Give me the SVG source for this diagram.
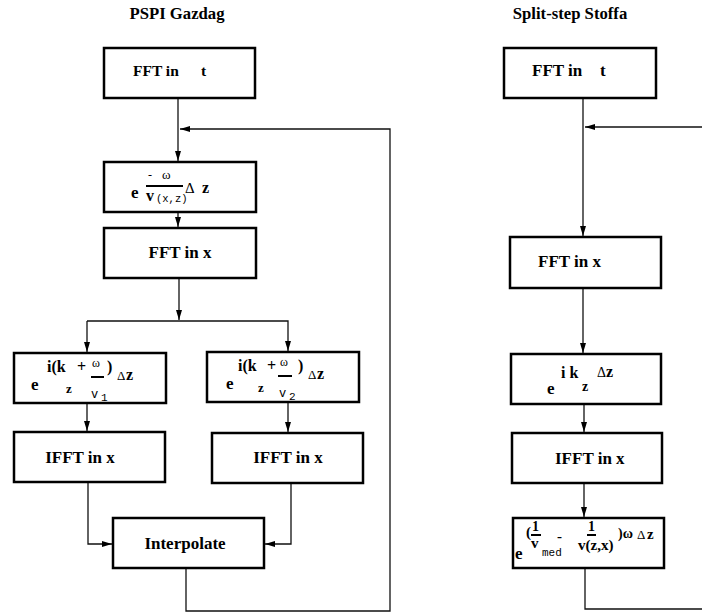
<svg xmlns="http://www.w3.org/2000/svg" width="702" height="613" viewBox="0 0 702 613">
<defs>
<style>
.box{fill:#fff;stroke:#000;stroke-width:2.5}
.c{fill:none;stroke:#111;stroke-width:1.3}
.t{font-family:"Liberation Serif","Times New Roman",serif;font-weight:bold;fill:#000}
.r{font-family:"Liberation Serif","Times New Roman",serif;fill:#000}
.m{font-family:"Liberation Mono","Courier New",monospace;fill:#000}
.bar{stroke:#000;stroke-width:2}
</style>
<marker id="ah" viewBox="0 0 10 6" refX="10" refY="3" markerWidth="10" markerHeight="6" markerUnits="userSpaceOnUse" orient="auto">
<path d="M0,0 L10,3 L0,6 z" fill="#000"/>
</marker>
</defs>
<rect width="702" height="613" fill="#fff"/>
<text class="t" x="177" y="19" font-size="16.7" text-anchor="middle">PSPI Gazdag</text>
<text class="t" x="570" y="19" font-size="16.7" text-anchor="middle">Split-step Stoffa</text>

<g id="connectors">
<path class="c" d="M178,98 V161" marker-end="url(#ah)"/>
<path class="c" d="M186,568 V611 H390 V129 H180" marker-end="url(#ah)"/>
<path class="c" d="M178,212 V227" marker-end="url(#ah)"/>
<path class="c" d="M179,278 V320" marker-end="url(#ah)"/>
<path class="c" d="M87,321 H288 V351" marker-end="url(#ah)"/>
<path class="c" d="M87,321 V352" marker-end="url(#ah)"/>
<path class="c" d="M87,403 V431" marker-end="url(#ah)"/>
<path class="c" d="M288,402 V432" marker-end="url(#ah)"/>
<path class="c" d="M88,482 V544 H112" marker-end="url(#ah)"/>
<path class="c" d="M291,483 V544 H265" marker-end="url(#ah)"/>
<path class="c" d="M583,98 V236" marker-end="url(#ah)"/>
<path class="c" d="M702,127 H585" marker-end="url(#ah)"/>
<path class="c" d="M583,288 V353" marker-end="url(#ah)"/>
<path class="c" d="M584,404 V432" marker-end="url(#ah)"/>
<path class="c" d="M584,483 V517" marker-end="url(#ah)"/>
<path class="c" d="M585,568 V609 H702"/>
</g>

<g id="g_fft_t">
<rect class="box" x="104" y="48" width="151" height="50"/>
<text class="t" x="133" y="76" font-size="15.5">FFT in</text>
<text class="t" x="201" y="76" font-size="15.5">t</text>
</g>

<g id="g_phase">
<rect class="box" x="104" y="162" width="152" height="50"/>
<text class="t" x="131" y="198" font-size="17">e</text>
<text class="r" x="148" y="179" font-size="12">-</text>
<text class="r" x="162" y="179" font-size="13">ω</text>
<line class="bar" x1="146" y1="186" x2="183" y2="186" stroke-width="1.5"/>
<text class="t" x="146" y="201" font-size="16">v</text>
<text class="m" x="156" y="202" font-size="10.5">(x,z)</text>
<text class="r" x="185" y="193" font-size="15">Δ</text>
<text class="t" x="202" y="193" font-size="16">z</text>
</g>

<g id="g_fft_x">
<rect class="box" x="104" y="228" width="152" height="50"/>
<text class="t" x="180" y="258" font-size="17" text-anchor="middle">FFT in x</text>
</g>

<g id="g_phase1">
<rect class="box" x="14" y="353" width="152" height="50"/>
<text class="t" x="31" y="390" font-size="17">e</text>
<text class="t" x="47" y="372" font-size="16">i(k</text>
<text class="t" x="66" y="393" font-size="13">z</text>
<text class="t" x="77" y="372" font-size="16">+</text>
<text class="r" x="92" y="367" font-size="12">ω</text>
<line class="bar" x1="91" y1="377" x2="104" y2="377"/>
<text class="m" x="91" y="398" font-size="12">v</text>
<text class="m" x="101" y="401" font-size="11">1</text>
<text class="t" x="107" y="372" font-size="16">)</text>
<text class="r" x="117" y="380" font-size="13">Δ</text>
<text class="t" x="126" y="380" font-size="16">z</text>
</g>

<g id="g_phase2">
<rect class="box" x="207" y="352" width="152" height="50"/>
<text class="t" x="226" y="389" font-size="17">e</text>
<text class="t" x="238" y="371" font-size="16">i(k</text>
<text class="t" x="258" y="392" font-size="13">z</text>
<text class="t" x="267" y="371" font-size="16">+</text>
<text class="r" x="280" y="366" font-size="12">ω</text>
<line class="bar" x1="278" y1="376" x2="292" y2="376"/>
<text class="m" x="279" y="397" font-size="12">v</text>
<text class="m" x="289" y="400" font-size="11">2</text>
<text class="t" x="298" y="371" font-size="16">)</text>
<text class="r" x="308" y="379" font-size="13">Δ</text>
<text class="t" x="317" y="379" font-size="16">z</text>
</g>

<g id="g_ifft1">
<rect class="box" x="14" y="432" width="151" height="50"/>
<text class="t" x="80" y="463" font-size="17" text-anchor="middle">IFFT in x</text>
</g>

<g id="g_ifft2">
<rect class="box" x="212" y="433" width="151" height="50"/>
<text class="t" x="288" y="463" font-size="17" text-anchor="middle">IFFT in x</text>
</g>

<g id="g_interp">
<rect class="box" x="113" y="518" width="151" height="50"/>
<text class="t" x="185" y="549" font-size="17" text-anchor="middle">Interpolate</text>
</g>

<g id="s_fft_t">
<rect class="box" x="504" y="48" width="152" height="50"/>
<text class="t" x="532" y="76" font-size="17">FFT in</text>
<text class="t" x="600" y="76" font-size="17">t</text>
</g>

<g id="s_fft_x">
<rect class="box" x="510" y="237" width="151" height="51"/>
<text class="t" x="538" y="267" font-size="17">FFT in x</text>
</g>

<g id="s_phase">
<rect class="box" x="511" y="354" width="150" height="50"/>
<text class="t" x="547" y="394" font-size="17">e</text>
<text class="t" x="561" y="378" font-size="16">i k</text>
<text class="t" x="582" y="391" font-size="14">z</text>
<text class="r" x="597" y="377" font-size="14">Δ</text>
<text class="t" x="606" y="377" font-size="16">z</text>
</g>

<g id="s_ifft">
<rect class="box" x="512" y="433" width="150" height="50"/>
<text class="t" x="555" y="464" font-size="17">IFFT in x</text>
</g>

<g id="s_phase2">
<rect class="box" x="513" y="518" width="151" height="50"/>
<text class="t" x="515" y="559" font-size="17">e</text>
<text class="t" x="526" y="537" font-size="15">(</text>
<text class="t" x="532" y="531" font-size="14">1</text>
<line class="bar" x1="531" y1="535" x2="541" y2="535"/>
<text class="t" x="531" y="548" font-size="15">v</text>
<text class="m" x="542" y="556" font-size="11">med</text>
<text class="t" x="557" y="541" font-size="15">-</text>
<text class="t" x="588" y="531" font-size="14">1</text>
<line class="bar" x1="587" y1="535" x2="596" y2="535"/>
<text class="t" x="578" y="550" font-size="15">v(z,x)</text>
<text class="t" x="618" y="538" font-size="14">)ω</text>
<text class="r" x="637" y="539" font-size="13">Δ</text>
<text class="t" x="647" y="539" font-size="15">z</text>
</g>
</svg>
